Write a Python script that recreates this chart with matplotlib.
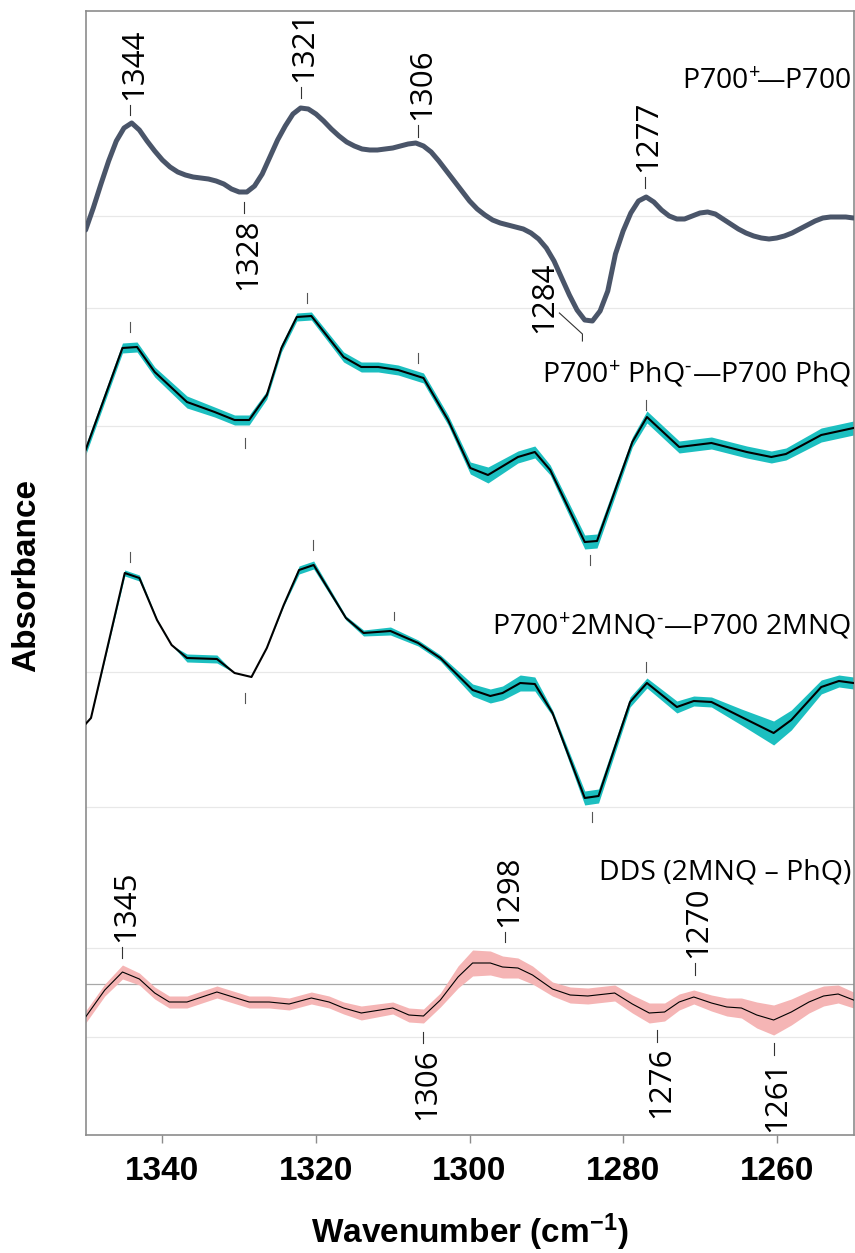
import numpy as np
import matplotlib
matplotlib.use("Agg")
import matplotlib.pyplot as plt

plt.rcParams["mathtext.fontset"] = "custom"
plt.rcParams["mathtext.rm"] = "Open Sans"
plt.rcParams["mathtext.it"] = "Open Sans:italic"
plt.rcParams["mathtext.bf"] = "Liberation Sans:bold"

# ---------------- data (absorbance differences, arbitrary units) ----------------
# P700+ - P700 (smooth reference spectrum), 1 cm-1 grid
wn_p700 = np.arange(1350, 1249, -1)
abs_p700 = [-14, 8, 32, 55, 75, 88, 93, 86, 75, 65,
            56, 49, 44, 41, 39, 38, 37, 35, 32, 27,
            24, 24, 30, 42, 59, 76, 90, 102, 108, 107,
            102, 95, 87, 80, 74, 70, 67, 66, 66, 67,
            68, 70, 72, 73, 70, 64, 55, 45, 35, 25,
            15, 7, 1, -4, -7, -9, -11, -13, -17, -23,
            -32, -45, -62, -79, -94, -104, -105, -95, -75, -38,
            -15, 3, 15, 19, 14, 6, 0, -3, -3, 0,
            3, 4, 2, -3, -8, -13, -17, -20, -22, -23,
            -22, -20, -17, -13, -9, -5, -2, -1, -1, -1,
            -2]

# P700+ PhQ- - P700 PhQ
wn_phq = [1350, 1345.2, 1343.3, 1341, 1336.8, 1333.2, 1330.6, 1328.7, 1326.4, 1324.5,
          1322.5, 1320.6, 1316.4, 1314.1, 1311.9, 1309.3, 1306, 1302.8, 1299.9, 1297.6,
          1293.7, 1291.5, 1289.5, 1285, 1283.4, 1278.8, 1276.9, 1272.7, 1268.5, 1263.9,
          1260.7, 1258.8, 1254.2, 1250]
abs_phq = [-24, 78, 79, 54, 24, 14, 6, 6, 31, 78, 109, 110, 69, 59, 59, 56, 48, 6, -42,
           -49, -31, -26, -44, -116, -115, -16, 9, -21, -17, -26, -31, -28, -9, -2]
err_phq = [5, 5, 5, 5, 6, 5, 5, 5, 4, 4, 4, 4, 5, 5, 5, 5, 5, 5, 6, 8, 6, 6, 5, 7, 7,
           5, 6, 6, 6, 6, 6, 6, 7, 7]

# P700+ 2MNQ- - P700 2MNQ
wn_mnq = [1350, 1349.3, 1344.9, 1343, 1340.7, 1338.8, 1336.8, 1332.9, 1330.6, 1328.4,
          1326.4, 1324.2, 1322.2, 1320.3, 1316.1, 1313.8, 1310.3, 1306.7, 1303.8, 1299.6,
          1297.3, 1295.7, 1293.4, 1291.5, 1289.2, 1285, 1283.2, 1279.1, 1276.9, 1273,
          1270.8, 1268.5, 1264.6, 1260.4, 1258.1, 1254.2, 1251.9, 1250]
abs_mnq = [-52, -46, 99, 94, 52, 27, 14, 13, -1, -5, 24, 67, 102, 107, 54, 39, 41, 29,
           14, -18, -24, -21, -11, -12, -41, -126, -124, -30, -11, -35, -29, -30, -45,
           -61, -48, -15, -9, -11]
err_mnq = [0, 0, 3, 3, 1, 0, 4, 4, 0, 0, 0, 1, 4, 4, 2, 3, 4, 3, 3, 6, 7, 7, 8, 7, 3,
           7, 7, 5, 5, 6, 5, 5, 8, 12, 10, 7, 6, 6]

# Double-difference spectrum DDS (2MNQ - PhQ)
wn_dds = [1350, 1347.5, 1345.2, 1343, 1341, 1339.1, 1336.8, 1332.9, 1328.7, 1326.1,
          1323.5, 1320.6, 1318.3, 1316.4, 1314.1, 1310, 1307.9, 1306, 1303.8, 1301.5,
          1299.6, 1297.3, 1295.7, 1293.7, 1291.8, 1289.2, 1286.9, 1284.6, 1281.1, 1278.8,
          1276.6, 1274.6, 1272.7, 1270.8, 1268.5, 1266.5, 1264.6, 1262.6, 1260.4, 1258.1,
          1255.8, 1253.9, 1252, 1250]
abs_dds = [-33, -6, 12, 5, -9, -18, -18, -8, -18, -18, -20, -14, -18, -24, -29, -24,
           -31, -32, -16, 7, 21, 21, 17, 16, 9, -5, -11, -12, -9, -20, -29, -28, -18,
           -13, -19, -23, -24, -31, -36, -28, -18, -12, -10, -16]
err_dds = [6, 6, 7, 6, 6, 6, 6, 6, 6, 6, 6, 6, 6, 6, 7, 6, 7, 7, 7, 11, 13, 12, 11, 10,
           9, 7, 8, 8, 8, 9, 10, 9, 8, 7, 8, 9, 10, 13, 15, 13, 11, 10, 9, 8]

trace_names = [r"P700$^{+}$$\!$—P700",
               r"P700$^{+}$ PhQ$^{\text{-}}$—P700 PhQ",
               r"P700$^{+}$2MNQ$^{\text{-}}$—P700 2MNQ",
               "DDS (2MNQ \u2013 PhQ)"]

xtick_values = [1340, 1320, 1300, 1280, 1260]

# vertical offsets of the stacked spectra
off_p700, off_phq, off_mnq, off_dds = 919, 709, 463, 151

# ---------------- style ----------------
slate = "#4A5569"
teal = "#1CBFC0"
pink = "#F5B5B5"
spine_col = "#8C8C8C"
num_font = ["Open Sans", "DejaVu Sans"]
axis_font = ["Liberation Sans", "DejaVu Sans"]

fig = plt.figure(figsize=(8.55, 12.53), dpi=100)
ax = fig.add_axes([85.6 / 855, 118 / 1253, (853.5 - 85.6) / 855, 1124 / 1253])
ax.set_xlim(1350, 1250)
ax.set_ylim(0, 1124)

# faint panel guide lines and the DDS zero line
for yl in [919, 827, 709, 463, 328, 187, 98]:
    ax.axhline(yl, color="#E8E8E8", lw=0.9, zorder=0)
ax.axhline(off_dds, color="#A8A8A8", lw=0.9, zorder=0)

# P700+ - P700
ax.plot(wn_p700, np.array(abs_p700) + off_p700, color=slate, lw=3.6,
        solid_joinstyle="round", solid_capstyle="round", zorder=3)

# PhQ and 2MNQ spectra with their spread
for wn, val, err, off in [(wn_phq, abs_phq, err_phq, off_phq),
                          (wn_mnq, abs_mnq, err_mnq, off_mnq)]:
    wn = np.array(wn); val = np.array(val) + off; err = np.array(err)
    ax.fill_between(wn, val - err, val + err, color=teal, lw=0, zorder=2)
    ax.plot(wn, val, color="black", lw=1.5, zorder=3)

# DDS
wn = np.array(wn_dds); val = np.array(abs_dds) + off_dds; err = np.array(err_dds)
ax.fill_between(wn, val - err, val + err, color=pink, lw=0, zorder=2)
ax.plot(wn, val, color="black", lw=0.8, zorder=3)

# ---------------- band assignments ----------------
def labelled(w, off, y0, y1, text, above=True):
    """Short marker line between y0 and y1 with a rotated wavenumber label."""
    ax.plot([w, w], [off + y0, off + y1], color="#333333", lw=0.8, zorder=4)
    if above:
        ax.annotate(text, (w, off + y1), xytext=(12, 5), textcoords="offset pixels",
                    rotation=90, rotation_mode="anchor", ha="left", va="baseline",
                    fontsize=22.5, family=num_font, color="black")
    else:
        ax.annotate(text, (w, off + y0), xytext=(12, -5), textcoords="offset pixels",
                    rotation=90, rotation_mode="anchor", ha="right", va="baseline",
                    fontsize=22.5, family=num_font, color="black")

labelled(1344.2, off_p700, 101, 111, "1344")
labelled(1322.0, off_p700, 118, 129, "1321")
labelled(1306.7, off_p700, 79, 91, "1306")
labelled(1277.2, off_p700, 28, 39, "1277")
labelled(1329.4, off_p700, 3, 14, "1328", above=False)

# 1284 with a leader line
ax.plot([1288.3, 1285.3, 1285.3], [off_p700 - 97, off_p700 - 118, off_p700 - 125],
        color="#333333", lw=0.8, zorder=4)
ax.annotate("1284", (1289.2, off_p700 - 117), rotation=90, rotation_mode="anchor",
            ha="left", va="baseline", fontsize=22.5, family=num_font, color="black")

labelled(1345.2, off_dds, 26, 37, "1345")
labelled(1295.4, off_dds, 42, 52, "1298")
labelled(1270.7, off_dds, 9, 21, "1270")
labelled(1306.0, off_dds, -59, -48, "1306", above=False)
labelled(1275.6, off_dds, -58, -46, "1276", above=False)
labelled(1260.4, off_dds, -71, -59, "1261", above=False)

# plain marker lines on the PhQ and 2MNQ spectra
marks_phq = [(1344.2, 94, 104), (1321.2, 123, 133), (1306.7, 63, 73),
             (1329.2, -22, -12), (1284.3, -139, -129), (1277.0, 16, 26)]
marks_mnq = [(1344.2, 110, 120), (1320.4, 122, 132), (1309.8, 52, 60),
             (1329.2, -31, -21), (1277.0, 0, 10), (1284.0, -150, -140)]
for off, marks in [(off_phq, marks_phq), (off_mnq, marks_mnq)]:
    for w, y0, y1 in marks:
        ax.plot([w, w], [off + y0, off + y1], color="#555555", lw=0.8, zorder=4)

# spectrum names
for name, off, dy in zip(trace_names, [off_p700, off_phq, off_mnq, off_dds],
                         [127, 43, 37, 104]):
    ax.text(1250.3, off + dy, name, ha="right", va="baseline", fontsize=20.5,
            family=num_font, color="black", zorder=5)

# ---------------- axes ----------------
for s in ax.spines.values():
    s.set_color(spine_col)
    s.set_linewidth(1.2)
ax.set_yticks([])
ax.set_xticks(xtick_values)
ax.set_xticklabels([str(v) for v in xtick_values], fontsize=24, fontweight="bold",
                   family=axis_font)
ax.tick_params(axis="x", direction="out", length=6, width=1.0, color=spine_col, pad=9)

fig.text(470 / 855, 1 - 1232 / 1253, r"Wavenumber (cm$^{\mathbf{-1}}$)", ha="center",
         va="center", fontsize=24, fontweight="bold", family=axis_font)
fig.text(27 / 855, 1 - 575 / 1253, "Absorbance", ha="center", va="center",
         rotation=90, fontsize=24, fontweight="bold", family=axis_font)

fig.savefig("out.png", dpi=100)
